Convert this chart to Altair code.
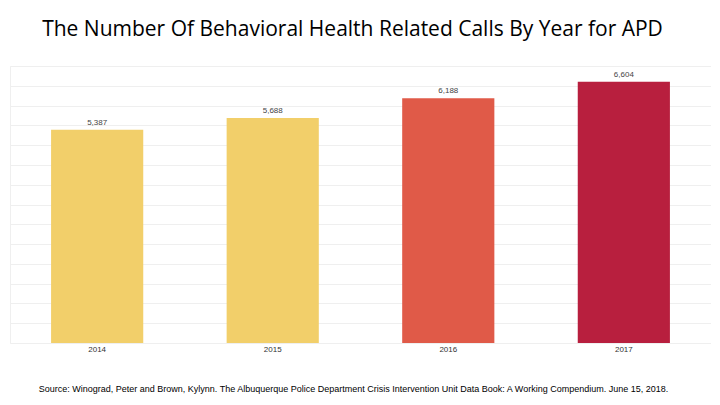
import altair as alt
import pandas as pd

years = ["2014", "2015", "2016", "2017"]
calls = [5387, 5688, 6188, 6604]
labels = ["5,387", "5,688", "6,188", "6,604"]
colors = ["#F2CF6A", "#F2CF6A", "#E05A48", "#B81F3E"]
grid_values = [0, 500, 1000, 1500, 2000, 2500, 3000, 3500, 4000, 4500,
               5000, 5500, 6000, 6500, 7000]

title_text = "The Number Of Behavioral Health Related Calls By Year for APD"
source_text = ("Source: Winograd, Peter and Brown, Kylynn. The Albuquerque Police Department "
               "Crisis Intervention Unit Data Book: A Working Compendium. June 15, 2018.")

df = pd.DataFrame({"year": years, "calls": calls, "label": labels, "color": colors})

x = alt.X("year:N", sort=years,
          scale=alt.Scale(paddingInner=0.475, paddingOuter=0.234),
          axis=alt.Axis(title=source_text, labelAngle=0, labelFont="Liberation Sans",
                        labelFontSize=8, labelColor="#333333", labelPadding=2,
                        ticks=False, domain=False, grid=False, titleFont="Liberation Sans",
                        titleFontSize=9, titleFontWeight="normal", titleColor="#000000",
                        titlePadding=31, titleX=343))
y_axis = alt.Axis(title=None, labels=False, ticks=False, domain=False,
                  values=grid_values, grid=True, gridColor="#EFEFEF", gridWidth=1)
y = alt.Y("calls:Q", scale=alt.Scale(domain=[0, 7000], nice=False), axis=y_axis)

bars = alt.Chart(df).mark_bar().encode(
    x=x, y=y, color=alt.Color("color:N", scale=None)
)
text = alt.Chart(df).mark_text(dy=-3, font="Liberation Sans", fontSize=8,
                               color="#444444", baseline="bottom").encode(
    x=x, y=y, text="label:N"
)

chart = (bars + text).properties(
    width=701, height=277,
    autosize=alt.AutoSizeParams(type="none"),
    padding={"left": 2, "top": 58, "right": 0, "bottom": 54},
    title=alt.TitleParams(title_text, font="Open Sans", fontSize=21,
                          fontWeight="normal", color="#000000", offset=26,
                          anchor="middle", dx=-8)
).configure_view(stroke="#EFEFEF")

chart.save("out.html", embed_options={"renderer": "svg", "actions": False})
